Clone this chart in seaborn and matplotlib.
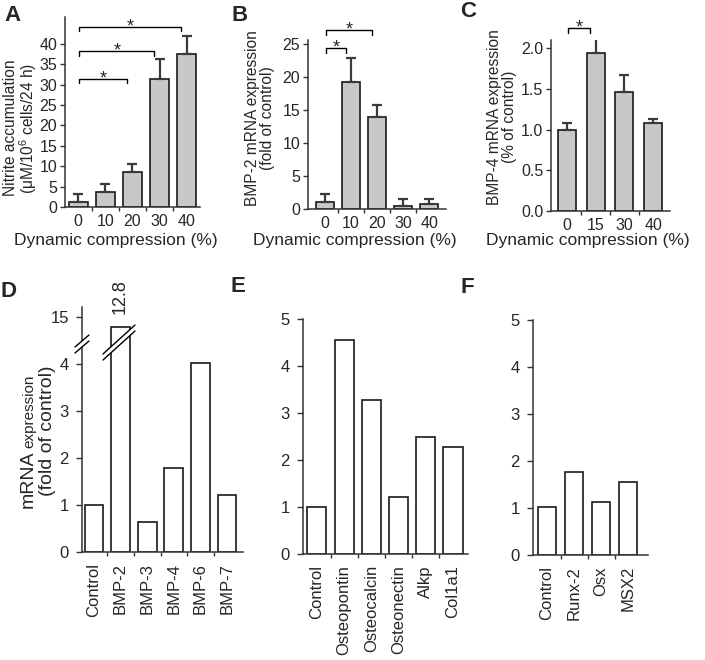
import matplotlib
matplotlib.use("Agg")
import matplotlib.pyplot as plt
import numpy as np
import seaborn as sns

# ---- data ----
comp_a = ["0", "10", "20", "30", "40"]
nitrite = [1.2, 3.7, 8.7, 31.3, 37.6]
nitrite_sd = [2.1, 1.9, 1.8, 4.9, 4.4]
sig_a = [(0, 2, 31.5), (0, 3, 38.2), (0, 4, 44.2)]

comp_b = ["0", "10", "20", "30", "40"]
bmp2 = [1.1, 19.3, 13.9, 0.5, 0.8]
bmp2_sd = [1.1, 3.6, 1.8, 1.0, 0.7]
sig_b = [(0, 1, 24.4), (0, 2, 27.1)]

comp_c = ["0", "15", "30", "40"]
bmp4 = [1.0, 1.94, 1.46, 1.08]
bmp4_sd = [0.08, 0.20, 0.21, 0.05]
sig_c = [(0, 1, 2.25)]

bmp_genes = ["Control", "BMP-2", "BMP-3", "BMP-4", "BMP-6", "BMP-7"]
bmp_expr = [1.0, 12.8, 0.63, 1.78, 4.02, 1.22]

osteo_genes = ["Control", "Osteopontin", "Osteocalcin", "Osteonectin", "Alkp", "Col1a1"]
osteo_expr = [1.0, 4.56, 3.27, 1.22, 2.5, 2.28]

tf_genes = ["Control", "Runx-2", "Osx", "MSX2"]
tf_expr = [1.02, 1.77, 1.13, 1.55]

# ---- style ----
sns.set_style("ticks")
plt.rcParams["font.family"] = ["Liberation Sans", "DejaVu Sans"]
plt.rcParams["mathtext.fontset"] = "custom"
plt.rcParams["mathtext.rm"] = "Liberation Sans"

W, H = 705, 660
fig = plt.figure(figsize=(W / 100, H / 100), dpi=100)

GRAY = "#c8c8c8"
EDGE = "#1a1a1a"
SPINE = "#333333"


def box(l, r, b, t):
    return [l / W, 1 - b / H, (r - l) / W, (b - t) / H]


def ftext(x, y, s, **kw):
    return fig.text(x / W, 1 - y / H, s, **kw)


def style_axis(ax, n, xlim, ylim, yticks, tick_fs, xrot=0, xpad=5):
    ax.set_xlim(*xlim)
    ax.set_ylim(*ylim)
    ax.set_yticks(yticks)
    sns.despine(ax=ax)
    for s in ("left", "bottom"):
        ax.spines[s].set_linewidth(1.1)
        ax.spines[s].set_color(SPINE)
    ax.set_xlabel("")
    ax.set_ylabel("")
    ax.tick_params(axis="x", which="major", length=0, pad=xpad,
                   labelsize=tick_fs, labelrotation=xrot)
    ax.set_xticks(np.arange(n - 1) + 0.5, minor=True)
    ax.tick_params(axis="x", which="minor", length=3, width=1, color=SPINE,
                   direction="out")
    ax.tick_params(axis="y", length=3.5, width=1, color=SPINE, pad=2,
                   labelsize=tick_fs)


def bars(ax, cats, vals, color, width=0.7):
    sns.barplot(x=cats, y=vals, color=color, saturation=1, edgecolor=EDGE,
                linewidth=1.2, width=width, ax=ax, order=cats)


def err(ax, vals, sd):
    n = len(vals)
    ax.errorbar(np.arange(n), vals, yerr=[np.zeros(n), sd], fmt="none",
                ecolor="#3a3a3a", elinewidth=1.6, capsize=3.5, capthick=1.6,
                zorder=1)


def brackets(ax, sig, drop):
    for i, j, y in sig:
        x1, x2 = i + 0.05, j - 0.2
        ax.plot([x1, x1, x2, x2], [y - drop, y, y, y - drop], color="black",
                lw=1.0, clip_on=False)
        ax.text((x1 + x2) / 2, y, "*", ha="center", va="center",
                fontsize=13, clip_on=False)


# ---- A ----
axA = fig.add_axes(box(65, 200, 207, 17))
bars(axA, comp_a, nitrite, GRAY)
err(axA, nitrite, nitrite_sd)
style_axis(axA, 5, (-0.48, 4.48), (0, 46.6), np.arange(0, 41, 5), 11.5)
brackets(axA, sig_a, 1.1)

# ---- B ----
axB = fig.add_axes(box(308, 446, 209, 40))
bars(axB, comp_b, bmp2, GRAY, width=0.72)
err(axB, bmp2, bmp2_sd)
style_axis(axB, 5, (-0.65, 4.65), (0, 25.6), np.arange(0, 26, 5), 11.5)
brackets(axB, sig_b, 0.7)

# ---- C ----
axC = fig.add_axes(box(551, 670, 211, 40))
bars(axC, comp_c, bmp4, GRAY, width=0.63)
err(axC, bmp4, bmp4_sd)
style_axis(axC, 4, (-0.56, 3.59), (0, 2.1), np.arange(0, 2.01, 0.5), 11.5)
axC.set_yticklabels([f"{v:.1f}" for v in np.arange(0, 2.01, 0.5)])
brackets(axC, sig_c, 0.06)

for x in (116, 355, 588):
    ftext(x, 240, "Dynamic compression (%)", ha="center", va="center",
          fontsize=12.5)

ftext(21, 128, "Nitrite accumulation\n(\u03bcM/10$^6$ cells/24 h)",
      rotation=90, ha="center", va="center", fontsize=11.2, linespacing=0.95)
ftext(260, 118, "BMP-2 mRNA expression\n(fold of control)",
      rotation=90, ha="center", va="center", fontsize=11.2, linespacing=0.95)
ftext(502, 117, "BMP-4 mRNA expression\n(% of control)",
      rotation=90, ha="center", va="center", fontsize=11.2, linespacing=0.95)

# ---- D (broken axis) ----
axD = fig.add_axes(box(82, 243, 552, 346))
bars(axD, bmp_genes, bmp_expr, "white")
style_axis(axD, 6, (-0.45, 5.6), (0, 4.38), np.arange(0, 5, 1), 12,
           xrot=90, xpad=8)
axD.tick_params(axis="y", pad=5, length=4.5)

axD2 = fig.add_axes(box(82, 243, 346, 307))
bars(axD2, bmp_genes, bmp_expr, "white")
axD2.set_xlim(-0.45, 5.6)
axD2.set_ylim(8.62, 17.2)
axD2.set_yticks([15])
axD2.set_xticks([])
axD2.set_xlabel("")
axD2.set_ylabel("")
sns.despine(ax=axD2, bottom=True)
axD2.spines["left"].set_linewidth(1.1)
axD2.spines["left"].set_color(SPINE)
axD2.tick_params(axis="y", pad=5, length=4.5, width=1, color=SPINE,
                 labelsize=12)
ftext(120, 297, f"{bmp_expr[1]}", rotation=90, ha="center", va="center",
      fontsize=13)

# ---- E ----
axE = fig.add_axes(box(303, 468, 554, 319))
bars(axE, osteo_genes, osteo_expr, "white")
style_axis(axE, 6, (-0.51, 5.55), (0, 5), np.arange(0, 6, 1), 12,
           xrot=90, xpad=8)
axE.tick_params(axis="y", pad=5, length=4.5)

# ---- F ----
axF = fig.add_axes(box(533, 648, 555, 320))
bars(axF, tf_genes, tf_expr, "white")
style_axis(axF, 4, (-0.52, 3.74), (0, 5), np.arange(0, 6, 1), 12,
           xrot=90, xpad=8)
axF.tick_params(axis="y", pad=5, length=4.5)

# y label of D: "mRNA" large, "expression" small
ftext(33, 508, "mRNA", rotation=90, rotation_mode="anchor", ha="left",
      va="baseline", fontsize=14)
ftext(33, 448, "expression", rotation=90, rotation_mode="anchor", ha="left",
      va="baseline", fontsize=11)
ftext(52, 431, "(fold of control)", rotation=90, rotation_mode="anchor",
      ha="center", va="baseline", fontsize=14)

# break marks on D
ov = fig.add_axes([0, 0, 1, 1], zorder=10)
ov.set_xlim(0, W)
ov.set_ylim(H, 0)
ov.axis("off")
ov.patch.set_alpha(0)
for (xa, ya, xb, yb) in [(75, 353, 89, 341), (103, 360, 135, 331)]:
    lo = np.array([[xa, ya], [xb, yb]])
    hi = lo - [0, 6]
    ov.fill([xa, xb, xb, xa], [ya, yb, yb - 6, ya - 6], color="white",
            lw=0, zorder=1)
    ov.plot(lo[:, 0], lo[:, 1], color="black", lw=1.0, zorder=2)
    ov.plot(hi[:, 0], hi[:, 1], color="black", lw=1.0, zorder=2)

# panel letters
for (x, y, s) in [(4, 21, "A"), (232, 21, "B"), (460, 17, "C"),
                  (1, 297, "D"), (231, 292, "E"), (460, 293, "F")]:
    ftext(x, y, s, fontsize=16, fontweight="bold", va="baseline", ha="left")

fig.savefig("out.png", dpi=100)
